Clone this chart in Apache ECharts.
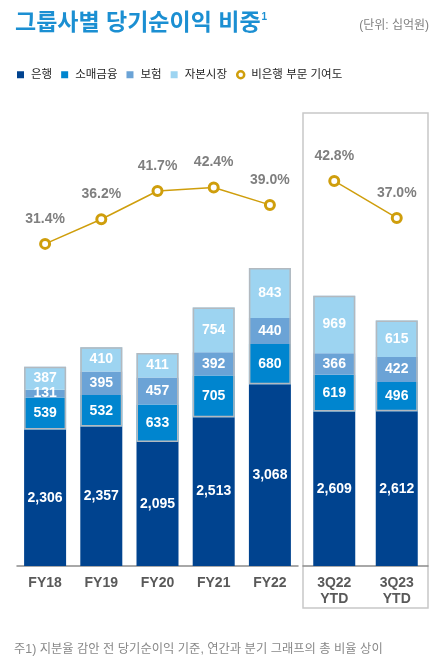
<!DOCTYPE html>
<html>
<head>
<meta charset="utf-8">
<script src="https://cdn.jsdelivr.net/npm/echarts@6/dist/echarts.min.js"></script>
<style>
    html, body { margin: 0; padding: 0; background: #fff; }
    #main { width: 446px; height: 666px; }
</style>
</head>
<body>
<div id="main"></div>
<script>
// 연간 데이터
var yearCats = ['FY18', 'FY19', 'FY20', 'FY21', 'FY22']
var yearBank = [2306, 2357, 2095, 2513, 3068]
var yearRetail = [539, 532, 633, 705, 680]
var yearInsur = [131, 395, 457, 392, 440]
var yearCapital = [387, 410, 411, 754, 843]
var yearRatio = [31.4, 36.2, 41.7, 42.4, 39.0]

// 분기 누적 데이터
var qtrCats = ['3Q22\nYTD', '3Q23\nYTD']
var qtrBank = [2609, 2612]
var qtrRetail = [619, 496]
var qtrInsur = [366, 422]
var qtrCapital = [969, 615]
var qtrRatio = [42.8, 37.0]

var names = ['은행', '소매금융', '보험', '자본시장', '비은행 부문 기여도']
var colors = ['#00438f', '#0085cf', '#6ba3d6', '#9dd4f1']
var gold = '#cf9e0c'
var font = 'Arial, "Noto Sans CJK KR", sans-serif'

var myChart = echarts.init(document.getElementById('main'));

function sum3(a, b, c) {
    var out = []
    for (let i = 0; i < a.length; i++) out.push(a[i] + b[i] + c[i])
    return out
}

function barLabel() {
    return {
        show: true,
        position: 'inside',
        color: '#fff',
        fontSize: 14,
        fontWeight: 'bold',
        fontFamily: font,
        formatter: function (p) { return p.value.toLocaleString('en-US') }
    }
}

function makeSeries(idx, bank, retail, insur, capital, ratio) {
    var arr = []
    var data = [bank, retail, insur, capital]
    for (let i = 0; i < 4; i++) {
        arr.push({
            name: names[i],
            type: 'bar',
            stack: 'g' + idx,
            xAxisIndex: idx,
            yAxisIndex: idx * 2,
            barWidth: 42,
            data: data[i],
            itemStyle: { color: colors[i] },
            label: barLabel(),
            z: 2
        })
    }
    // 비은행 부분 테두리
    arr.push({
        name: 'base' + idx,
        type: 'bar',
        stack: 'o' + idx,
        xAxisIndex: idx,
        yAxisIndex: idx * 2,
        barWidth: 42,
        barGap: '-100%',
        data: bank,
        itemStyle: { color: 'transparent' },
        silent: true,
        z: 3
    })
    arr.push({
        name: 'outline' + idx,
        type: 'bar',
        stack: 'o' + idx,
        xAxisIndex: idx,
        yAxisIndex: idx * 2,
        barWidth: 42,
        data: sum3(retail, insur, capital),
        itemStyle: { color: 'transparent', borderColor: '#b3b9bf', borderWidth: 1.5 },
        silent: true,
        z: 3
    })
    arr.push({
        name: names[4],
        type: 'line',
        xAxisIndex: idx,
        yAxisIndex: idx * 2 + 1,
        data: ratio,
        symbol: 'circle',
        symbolSize: 9,
        lineStyle: { color: gold, width: 1.5 },
        itemStyle: { color: '#fff', borderColor: gold, borderWidth: 3 },
        label: {
            show: true,
            position: 'top',
            distance: 12,
            color: '#7f7f7f',
            fontSize: 14,
            fontWeight: 'bold',
            fontFamily: font,
            formatter: function (p) { return p.value.toFixed(1) + '%' }
        },
        z: 5
    })
    return arr
}

var xStyle = {
    type: 'category',
    axisTick: { show: false },
    axisLine: { lineStyle: { color: '#8c8c8c', width: 1.5 } },
    axisLabel: { color: '#595959', fontSize: 14, fontWeight: 'bold', fontFamily: font, margin: 9, lineHeight: 16 }
}

option = {
    animation: false,
    textStyle: { fontFamily: font },
    title: [{
        text: '그룹사별 당기순이익 비중{s|1}',
        left: 10,
        top: 7,
        textStyle: {
            color: '#1b8fd2', fontSize: 23, fontWeight: 'bold', fontFamily: font,
            rich: { s: { fontSize: 10, fontWeight: 'bold', color: '#1b8fd2', verticalAlign: 'top', padding: [0, 0, 13, 1] } }
        }
    }, {
        text: '(단위: 십억원)',
        right: 12,
        top: 15,
        textStyle: { color: '#7f7f7f', fontSize: 12, fontWeight: 'normal', fontFamily: font }
    }, {
        text: '주1) 지분율 감안 전 당기순이익 기준, 연간과 분기 그래프의 총 비율 상이',
        left: 9,
        top: 638,
        textStyle: { color: '#888', fontSize: 12.3, fontWeight: 'normal', fontFamily: font }
    }],
    legend: {
        data: [
            { name: names[0], icon: 'rect' },
            { name: names[1], icon: 'rect' },
            { name: names[2], icon: 'rect' },
            { name: names[3], icon: 'rect' },
            { name: names[4], icon: 'circle', itemStyle: { color: '#fff', borderColor: gold, borderWidth: 2.5 } }
        ],
        left: 12,
        top: 64,
        itemWidth: 7,
        itemHeight: 7,
        itemGap: 9,
        textStyle: { color: '#262626', fontSize: 11.5, fontFamily: font, padding: [0, 0, 0, 2] }
    },
    graphic: [{
        type: 'rect',
        shape: { x: 303, y: 113, width: 125, height: 495 },
        style: { fill: 'none', stroke: '#c8c8c8', lineWidth: 1.5 },
        z: 0
    }],
    grid: [
        { left: 17, right: 148, top: 110, bottom: 100 },
        { left: 303, right: 18, top: 110, bottom: 100 }
    ],
    xAxis: [
        Object.assign({ gridIndex: 0, data: yearCats }, xStyle),
        Object.assign({ gridIndex: 1, data: qtrCats }, xStyle)
    ],
    yAxis: [
        { gridIndex: 0, type: 'value', min: 0, max: 7700, show: false },
        { gridIndex: 0, type: 'value', min: -31.4, max: 57.5, show: false },
        { gridIndex: 1, type: 'value', min: 0, max: 7700, show: false },
        { gridIndex: 1, type: 'value', min: -17.5, max: 53.9, show: false }
    ],
    series: makeSeries(0, yearBank, yearRetail, yearInsur, yearCapital, yearRatio)
        .concat(makeSeries(1, qtrBank, qtrRetail, qtrInsur, qtrCapital, qtrRatio))
};

myChart.setOption(option);
window.addEventListener("resize", function () {
    myChart.resize();
});
</script>
</body>
</html>
